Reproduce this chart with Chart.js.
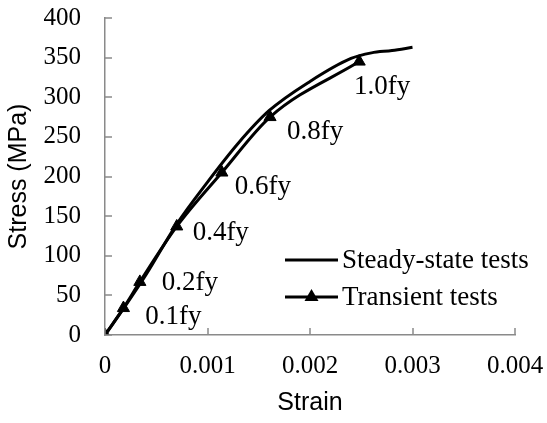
<!DOCTYPE html>
<html>
<head>
<meta charset="utf-8">
<script src="https://cdn.jsdelivr.net/npm/chart.js@4"></script>
<style>
  html, body { margin: 0; padding: 0; background: #fff; }
  #wrap { width: 547px; height: 423px; }
</style>
</head>
<body>
<div id="wrap"><canvas id="chart" width="547" height="423"></canvas></div>
<script>
// data
const steadyStrain = [0, 0.0002, 0.0004, 0.0007, 0.001, 0.0013, 0.0016, 0.002, 0.0024, 0.0026, 0.0028, 0.003];
const steadyStress = [0, 37, 76, 140, 193, 242, 283, 320, 349, 356, 359, 363];
const transientStrain = [0, 0.00018, 0.00034, 0.0007, 0.00114, 0.00161, 0.00248];
const transientStress = [0, 34, 67, 137, 205, 275, 345];
const loadLabels = ['', '0.1fy', '0.2fy', '0.4fy', '0.6fy', '0.8fy', '1.0fy'];
const xTicks = [0, 0.001, 0.002, 0.003, 0.004];
const yTicks = [0, 50, 100, 150, 200, 250, 300, 350, 400];
const legendNames = ['Steady-state tests', 'Transient tests'];

// label offset from its point, in pixels
const labelOffsets = [[0, 0], [50, 9], [50, 1], [44, 6], [41, 14], [45, 15], [23, 25]];

const serif = '"Liberation Serif", "Times New Roman", serif';
const sans = '"Liberation Sans", Arial, sans-serif';
const axisGray = '#8a8a8a';

function toPoints(xs, ys) {
    return xs.map((x, i) => ({ x: x, y: ys[i] }));
}

// drop the extra room chart.js keeps for end labels, layout.padding decides
function noEdgePadding(scale) {
    scale.paddingTop = 0;
    scale.paddingBottom = 0;
    scale.paddingLeft = 0;
    scale.paddingRight = 0;
}

// little tick marks pointing into the plot, like Excel draws them
const innerTicks = {
    id: 'innerTicks',
    afterDatasetsDraw(chart) {
        const ctx = chart.ctx;
        const xs = chart.scales.x, ys = chart.scales.y;
        ctx.save();
        ctx.strokeStyle = axisGray;
        ctx.lineWidth = 1.5;
        ctx.beginPath();
        xTicks.forEach(v => {
            const px = Math.round(xs.getPixelForValue(v));
            ctx.moveTo(px, ys.bottom);
            ctx.lineTo(px, ys.bottom - 7);
        });
        yTicks.forEach(v => {
            const py = Math.round(ys.getPixelForValue(v));
            ctx.moveTo(xs.left, py);
            ctx.lineTo(xs.left + 7, py);
        });
        ctx.stroke();
        ctx.restore();
    }
};

// 0.1fy ... 1.0fy next to the transient points
const pointLabels = {
    id: 'pointLabels',
    afterDatasetsDraw(chart) {
        const ctx = chart.ctx;
        const meta = chart.getDatasetMeta(1);
        ctx.save();
        ctx.font = '27px ' + serif;
        ctx.fillStyle = '#000';
        ctx.textAlign = 'center';
        ctx.textBaseline = 'middle';
        meta.data.forEach((pt, i) => {
            if (!loadLabels[i]) return;
            ctx.fillText(loadLabels[i], pt.x + labelOffsets[i][0], pt.y + labelOffsets[i][1]);
        });
        ctx.restore();
    }
};

// legend drawn by hand so the marker sits on the line sample
const handLegend = {
    id: 'handLegend',
    afterDraw(chart) {
        const ctx = chart.ctx;
        const rows = [260, 297];
        const x0 = 285, x1 = 338;
        ctx.save();
        ctx.font = '27px ' + serif;
        ctx.fillStyle = '#000';
        ctx.textBaseline = 'middle';
        ctx.textAlign = 'left';
        rows.forEach((y, i) => {
            ctx.strokeStyle = '#000';
            ctx.lineWidth = 3;
            ctx.beginPath();
            ctx.moveTo(x0, y);
            ctx.lineTo(x1, y);
            ctx.stroke();
            if (i === 1) {
                const cx = (x0 + x1) / 2;
                ctx.beginPath();
                ctx.moveTo(cx, y - 8);
                ctx.lineTo(cx + 7, y + 4);
                ctx.lineTo(cx - 7, y + 4);
                ctx.closePath();
                ctx.fill();
            }
            ctx.fillText(legendNames[i], x1 + 4, y + 1);
        });
        ctx.restore();
    }
};

new Chart(document.getElementById('chart'), {
    type: 'scatter',
    data: {
        datasets: [{
            label: legendNames[0],
            data: toPoints(steadyStrain, steadyStress),
            showLine: true,
            borderColor: '#000',
            borderWidth: 3,
            pointRadius: 0,
            cubicInterpolationMode: 'monotone'
        }, {
            label: legendNames[1],
            data: toPoints(transientStrain, transientStress),
            showLine: true,
            borderColor: '#000',
            backgroundColor: '#000',
            borderWidth: 3,
            pointStyle: 'triangle',
            pointRadius: 7,
            pointBorderWidth: 1,
            cubicInterpolationMode: 'monotone'
        }]
    },
    options: {
        responsive: false,
        animation: false,
        layout: { padding: { top: 18, right: 32, left: 0, bottom: 0 } },
        plugins: {
            legend: { display: false },
            tooltip: { enabled: false }
        },
        scales: {
            x: {
                type: 'linear',
                min: 0,
                max: 0.004,
                afterBuildTicks(scale) { scale.ticks = xTicks.map(v => ({ value: v })); },
                afterFit(scale) { scale.height = 88; noEdgePadding(scale); },
                grid: { display: false, drawTicks: false },
                border: { display: true, color: axisGray, width: 1.5 },
                ticks: {
                    color: '#000',
                    padding: 16,
                    maxRotation: 0,
                    font: { family: serif, size: 25 },
                    callback: v => v === 0 ? '0' : v.toFixed(3)
                },
                title: {
                    display: true,
                    text: 'Strain',
                    color: '#000',
                    font: { family: sans, size: 25 },
                    padding: { top: 0, bottom: 5 }
                }
            },
            y: {
                min: 0,
                max: 400,
                afterBuildTicks(scale) { scale.ticks = yTicks.map(v => ({ value: v })); },
                afterFit(scale) { scale.width = 105; noEdgePadding(scale); },
                grid: { display: false, drawTicks: false },
                border: { display: true, color: axisGray, width: 1.5 },
                ticks: {
                    color: '#000',
                    padding: 24,
                    font: { family: serif, size: 25 }
                },
                title: {
                    display: true,
                    text: 'Stress (MPa)',
                    color: '#000',
                    font: { family: sans, size: 25 },
                    padding: { top: 4, bottom: 0 }
                }
            }
        }
    },
    plugins: [innerTicks, pointLabels, handLegend]
});
</script>
</body>
</html>
